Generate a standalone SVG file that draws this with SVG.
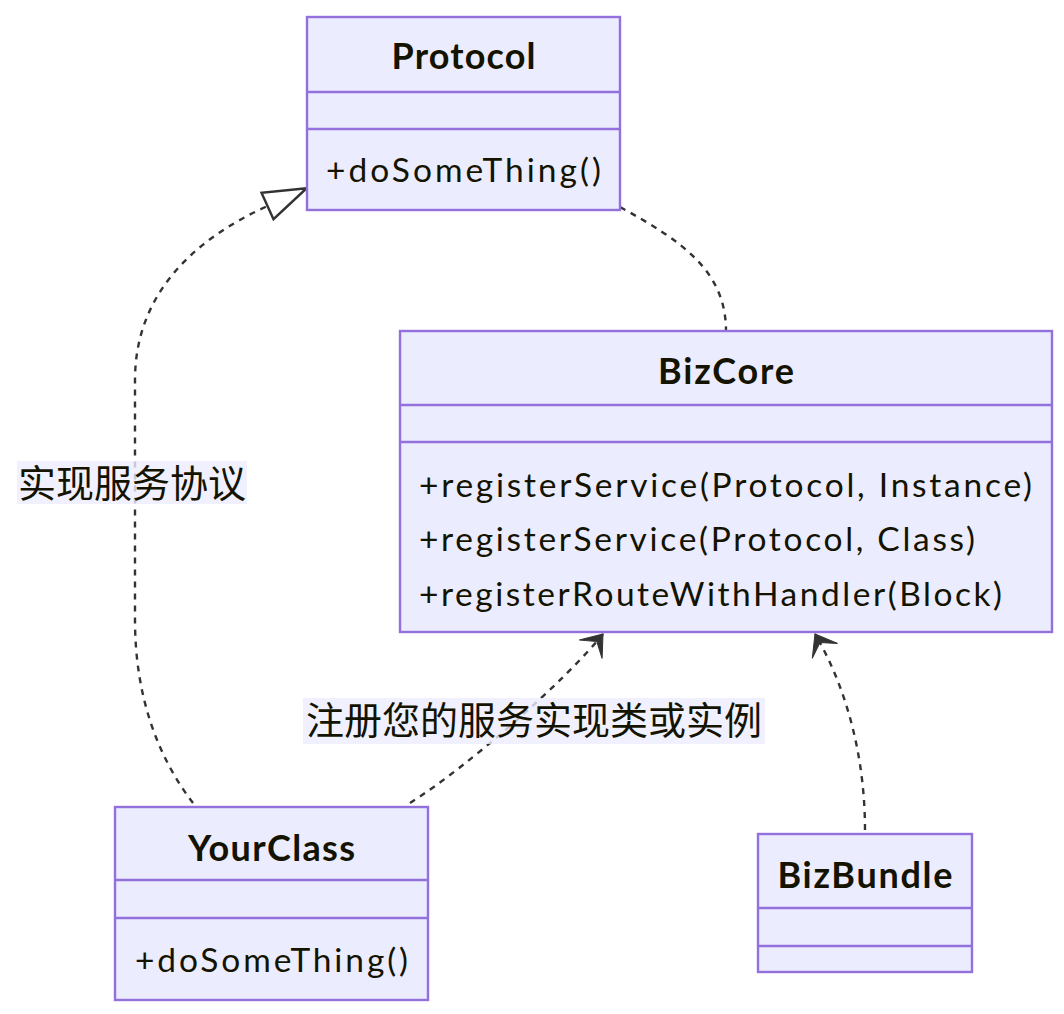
<svg xmlns="http://www.w3.org/2000/svg" width="1064" height="1014" viewBox="0 0 1064 1014">
<style>
.box{fill:#ECECFF;stroke:#9370DB;stroke-width:2.4}
.div{stroke:#9370DB;stroke-width:2.4;fill:none}
.title{font-family:Lato,"Liberation Sans",sans-serif;font-weight:bold;font-size:36px;fill:#131300;text-anchor:middle}
.mth{font-family:Lato,"Liberation Sans",sans-serif;font-size:33.5px;fill:#131300}
.edge{fill:none;stroke:#333;stroke-width:2.4;stroke-dasharray:6 6}
.lblbg{fill:#ECECFF;opacity:0.8}
.lbl{font-family:"Noto Sans CJK SC","Noto Sans",sans-serif;font-size:38px;fill:#131300;text-anchor:middle}
</style>
<defs>
<marker id="dep" markerUnits="userSpaceOnUse" viewBox="-24 -18 30 36" markerWidth="30" markerHeight="36" refX="0" refY="0" orient="auto" overflow="visible">
<path d="M0,0 L-19.6,-14.7 L-9.8,0 L-19.6,14.7 Z" fill="#333" stroke="#333" stroke-width="1"/>
</marker>
<marker id="ext" markerUnits="userSpaceOnUse" viewBox="-3 -18 50 36" markerWidth="50" markerHeight="36" refX="0" refY="0" orient="auto" overflow="visible">
<path d="M43,0 L0,-14.5 L0,14.5 Z" fill="#fff" stroke="#333" stroke-width="2.4" stroke-linejoin="miter"/>
</marker>
</defs>
<rect width="1064" height="1014" fill="#fff"/>

<g id="connectors">
<path id="e-yourclass-protocol" class="edge" d="M193,803 C160,760 135,700 135,620 L135,380 C135,300 186,243 267.5,206" marker-end="url(#ext)"/>
<path id="e-protocol-bizcore" class="edge" d="M620,207 C680,240 726,270 726,331"/>
<path id="e-yourclass-bizcore" class="edge" d="M410,803 C470,765 565,681 603,634" marker-end="url(#dep)"/>
<path id="e-bizbundle-bizcore" class="edge" d="M865,830 C865,760 848,690 815,634" marker-end="url(#dep)"/>
</g>

<g id="edge-labels">
<g id="label-1">
<rect class="lblbg" x="17" y="461" width="230" height="43"/>
<text class="lbl" x="132" y="497">实现服务协议</text>
</g>
<g id="label-2">
<rect class="lblbg" x="303" y="698" width="462" height="46"/>
<text class="lbl" x="534" y="734" textLength="456" lengthAdjust="spacing">注册您的服务实现类或实例</text>
</g>
</g>

<g id="node-Protocol">
<rect class="box" x="307" y="17" width="313" height="193"/>
<line class="div" x1="307" y1="92" x2="620" y2="92"/>
<line class="div" x1="307" y1="129" x2="620" y2="129"/>
<text class="title" x="463.5" y="69" textLength="144" lengthAdjust="spacing">Protocol</text>
<text class="mth" x="326" y="182" textLength="275" lengthAdjust="spacing">+doSomeThing()</text>
</g>

<g id="node-BizCore">
<rect class="box" x="400" y="331" width="652" height="301"/>
<line class="div" x1="400" y1="405" x2="1052" y2="405"/>
<line class="div" x1="400" y1="442" x2="1052" y2="442"/>
<text class="title" x="726" y="384" textLength="136" lengthAdjust="spacing">BizCore</text>
<text class="mth" x="419" y="497" textLength="613" lengthAdjust="spacing">+registerService(Protocol, Instance)</text>
<text class="mth" x="419" y="551" textLength="556" lengthAdjust="spacing">+registerService(Protocol, Class)</text>
<text class="mth" x="419" y="606" textLength="583" lengthAdjust="spacing">+registerRouteWithHandler(Block)</text>
</g>

<g id="node-YourClass">
<rect class="box" x="115" y="807" width="313" height="193"/>
<line class="div" x1="115" y1="880" x2="428" y2="880"/>
<line class="div" x1="115" y1="918" x2="428" y2="918"/>
<text class="title" x="271.5" y="861" textLength="167" lengthAdjust="spacing">YourClass</text>
<text class="mth" x="135" y="972" textLength="273" lengthAdjust="spacing">+doSomeThing()</text>
</g>

<g id="node-BizBundle">
<rect class="box" x="758" y="834" width="214" height="138"/>
<line class="div" x1="758" y1="908" x2="972" y2="908"/>
<line class="div" x1="758" y1="946" x2="972" y2="946"/>
<text class="title" x="865" y="888" textLength="175" lengthAdjust="spacing">BizBundle</text>
</g>
</svg>
